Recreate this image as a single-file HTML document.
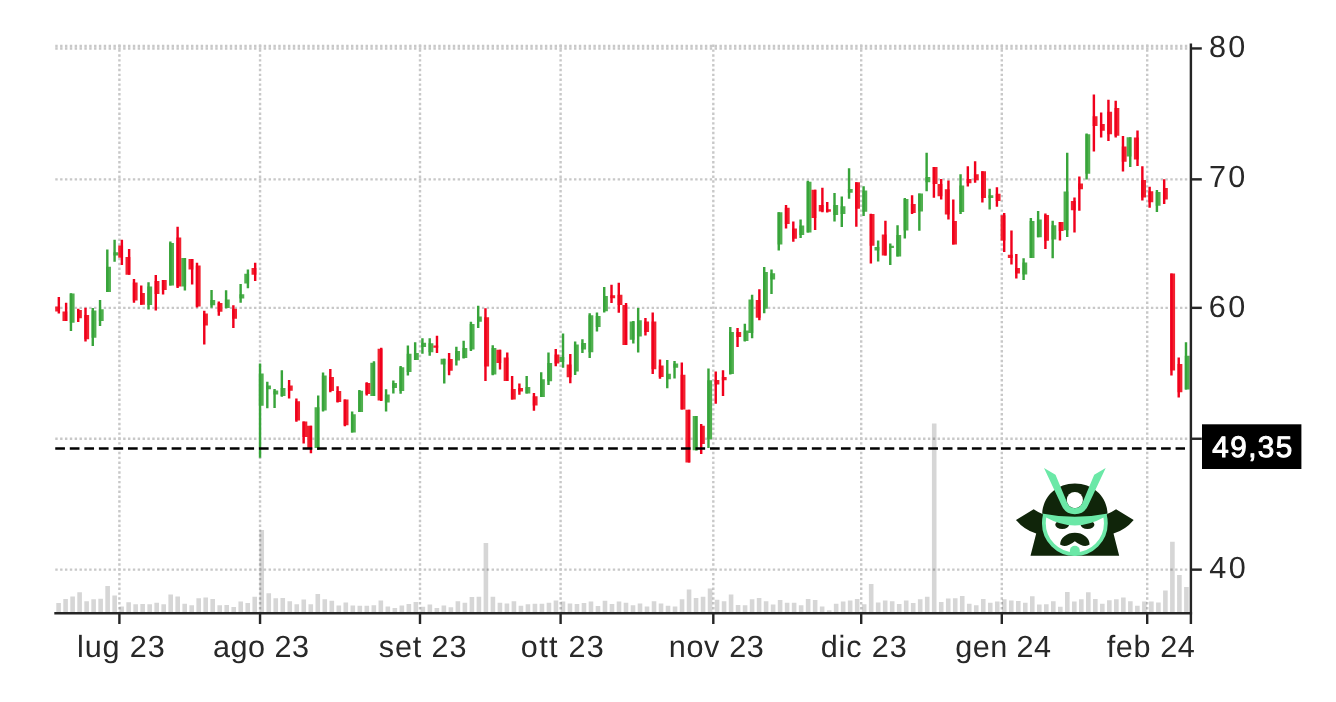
<!DOCTYPE html><html><head><meta charset="utf-8"><title>chart</title><style>
html,body{margin:0;padding:0;background:#fff;}
body{width:1336px;height:702px;overflow:hidden;position:relative;font-family:"Liberation Sans",sans-serif;}
svg{position:absolute;left:0;top:0;will-change:transform;}
text{font-family:"Liberation Sans",sans-serif;text-rendering:geometricPrecision;}
</style></head><body>
<svg width="1336" height="702" viewBox="0 0 1336 702">
<path id="vol" fill="#d6d6d6" d="M56.30,612.4v-9.4h4.6v9.4zM63.30,612.4v-13.5h4.6v13.5zM70.31,612.4v-16.0h4.6v16.0zM77.31,612.4v-20.2h4.6v20.2zM84.32,612.4v-11.2h4.6v11.2zM91.32,612.4v-13.2h4.6v13.2zM98.33,612.4v-13.6h4.6v13.6zM105.33,612.4v-26.3h4.6v26.3zM112.34,612.4v-16.9h4.6v16.9zM119.34,612.4v-6.0h4.6v6.0zM126.35,612.4v-10.2h4.6v10.2zM133.35,612.4v-8.2h4.6v8.2zM140.36,612.4v-8.4h4.6v8.4zM147.37,612.4v-8.2h4.6v8.2zM154.37,612.4v-9.7h4.6v9.7zM161.38,612.4v-8.2h4.6v8.2zM168.38,612.4v-18.0h4.6v18.0zM175.38,612.4v-15.9h4.6v15.9zM182.39,612.4v-8.7h4.6v8.7zM189.39,612.4v-7.2h4.6v7.2zM196.40,612.4v-14.2h4.6v14.2zM203.40,612.4v-15.0h4.6v15.0zM210.41,612.4v-13.5h4.6v13.5zM217.42,612.4v-7.2h4.6v7.2zM224.42,612.4v-7.5h4.6v7.5zM231.43,612.4v-5.4h4.6v5.4zM238.43,612.4v-10.8h4.6v10.8zM245.44,612.4v-9.4h4.6v9.4zM252.44,612.4v-15.7h4.6v15.7zM259.44,612.4v-82.4h4.6v82.4zM266.45,612.4v-19.2h4.6v19.2zM273.45,612.4v-14.2h4.6v14.2zM280.46,612.4v-14.5h4.6v14.5zM287.46,612.4v-11.2h4.6v11.2zM294.47,612.4v-8.2h4.6v8.2zM301.47,612.4v-13.0h4.6v13.0zM308.48,612.4v-8.2h4.6v8.2zM315.49,612.4v-18.4h4.6v18.4zM322.49,612.4v-13.2h4.6v13.2zM329.50,612.4v-11.7h4.6v11.7zM336.50,612.4v-7.0h4.6v7.0zM343.50,612.4v-10.0h4.6v10.0zM350.51,612.4v-7.0h4.6v7.0zM357.51,612.4v-6.7h4.6v6.7zM364.52,612.4v-6.7h4.6v6.7zM371.53,612.4v-7.2h4.6v7.2zM378.53,612.4v-12.0h4.6v12.0zM385.54,612.4v-6.0h4.6v6.0zM392.54,612.4v-4.5h4.6v4.5zM399.55,612.4v-7.0h4.6v7.0zM406.55,612.4v-8.5h4.6v8.5zM413.56,612.4v-10.5h4.6v10.5zM420.56,612.4v-5.7h4.6v5.7zM427.56,612.4v-7.9h4.6v7.9zM434.57,612.4v-4.5h4.6v4.5zM441.57,612.4v-7.0h4.6v7.0zM448.58,612.4v-5.2h4.6v5.2zM455.58,612.4v-11.2h4.6v11.2zM462.59,612.4v-9.7h4.6v9.7zM469.60,612.4v-15.4h4.6v15.4zM476.60,612.4v-15.7h4.6v15.7zM483.61,612.4v-69.3h4.6v69.3zM490.61,612.4v-15.7h4.6v15.7zM497.62,612.4v-9.7h4.6v9.7zM504.62,612.4v-8.8h4.6v8.8zM511.62,612.4v-11.2h4.6v11.2zM518.63,612.4v-6.7h4.6v6.7zM525.63,612.4v-8.2h4.6v8.2zM532.64,612.4v-8.7h4.6v8.7zM539.64,612.4v-8.7h4.6v8.7zM546.65,612.4v-9.7h4.6v9.7zM553.65,612.4v-11.8h4.6v11.8zM560.66,612.4v-10.8h4.6v10.8zM567.66,612.4v-9.0h4.6v9.0zM574.67,612.4v-8.5h4.6v8.5zM581.67,612.4v-9.3h4.6v9.3zM588.68,612.4v-10.8h4.6v10.8zM595.68,612.4v-6.4h4.6v6.4zM602.69,612.4v-11.7h4.6v11.7zM609.69,612.4v-8.5h4.6v8.5zM616.70,612.4v-10.8h4.6v10.8zM623.70,612.4v-9.7h4.6v9.7zM630.71,612.4v-7.2h4.6v7.2zM637.71,612.4v-9.0h4.6v9.0zM644.72,612.4v-6.0h4.6v6.0zM651.72,612.4v-11.1h4.6v11.1zM658.73,612.4v-8.8h4.6v8.8zM665.73,612.4v-6.6h4.6v6.6zM672.74,612.4v-6.0h4.6v6.0zM679.74,612.4v-13.2h4.6v13.2zM686.75,612.4v-22.9h4.6v22.9zM693.75,612.4v-14.5h4.6v14.5zM700.76,612.4v-15.7h4.6v15.7zM707.76,612.4v-24.0h4.6v24.0zM714.77,612.4v-12.7h4.6v12.7zM721.77,612.4v-11.2h4.6v11.2zM728.78,612.4v-17.8h4.6v17.8zM735.78,612.4v-7.5h4.6v7.5zM742.79,612.4v-7.2h4.6v7.2zM749.79,612.4v-13.2h4.6v13.2zM756.80,612.4v-14.4h4.6v14.4zM763.80,612.4v-11.2h4.6v11.2zM770.81,612.4v-7.9h4.6v7.9zM777.81,612.4v-12.3h4.6v12.3zM784.82,612.4v-9.7h4.6v9.7zM791.82,612.4v-9.7h4.6v9.7zM798.83,612.4v-7.2h4.6v7.2zM805.83,612.4v-13.3h4.6v13.3zM812.84,612.4v-12.3h4.6v12.3zM819.84,612.4v-5.8h4.6v5.8zM826.85,612.4v-2.2h4.6v2.2zM833.85,612.4v-8.7h4.6v8.7zM840.86,612.4v-10.8h4.6v10.8zM847.86,612.4v-12.0h4.6v12.0zM854.87,612.4v-13.5h4.6v13.5zM861.87,612.4v-8.2h4.6v8.2zM868.88,612.4v-28.4h4.6v28.4zM875.88,612.4v-9.9h4.6v9.9zM882.89,612.4v-11.8h4.6v11.8zM889.89,612.4v-11.2h4.6v11.2zM896.90,612.4v-8.5h4.6v8.5zM903.90,612.4v-12.0h4.6v12.0zM910.91,612.4v-9.4h4.6v9.4zM917.91,612.4v-13.2h4.6v13.2zM924.92,612.4v-15.7h4.6v15.7zM931.92,612.4v-188.9h4.6v188.9zM938.93,612.4v-10.3h4.6v10.3zM945.93,612.4v-13.9h4.6v13.9zM952.94,612.4v-14.1h4.6v14.1zM959.94,612.4v-16.5h4.6v16.5zM966.95,612.4v-8.7h4.6v8.7zM973.95,612.4v-7.2h4.6v7.2zM980.96,612.4v-13.3h4.6v13.3zM987.96,612.4v-9.7h4.6v9.7zM994.97,612.4v-10.8h4.6v10.8zM1001.97,612.4v-13.2h4.6v13.2zM1008.98,612.4v-12.0h4.6v12.0zM1015.98,612.4v-11.5h4.6v11.5zM1022.99,612.4v-9.7h4.6v9.7zM1029.99,612.4v-16.2h4.6v16.2zM1037.00,612.4v-7.9h4.6v7.9zM1044.01,612.4v-8.2h4.6v8.2zM1051.01,612.4v-11.1h4.6v11.1zM1058.02,612.4v-5.7h4.6v5.7zM1065.02,612.4v-20.5h4.6v20.5zM1072.03,612.4v-10.8h4.6v10.8zM1079.03,612.4v-13.2h4.6v13.2zM1086.03,612.4v-20.2h4.6v20.2zM1093.04,612.4v-13.5h4.6v13.5zM1100.04,612.4v-8.7h4.6v8.7zM1107.05,612.4v-12.1h4.6v12.1zM1114.05,612.4v-13.2h4.6v13.2zM1121.06,612.4v-15.0h4.6v15.0zM1128.06,612.4v-11.2h4.6v11.2zM1135.07,612.4v-6.7h4.6v6.7zM1142.08,612.4v-10.9h4.6v10.9zM1149.08,612.4v-10.8h4.6v10.8zM1156.09,612.4v-10.0h4.6v10.0zM1163.09,612.4v-22.0h4.6v22.0zM1170.10,612.4v-70.7h4.6v70.7zM1177.10,612.4v-37.3h4.6v37.3zM1184.11,612.4v-25.3h4.6v25.3z"/>
<g stroke="#000" opacity="0.215" stroke-width="2.42" stroke-dasharray="2.424 2.424" fill="none">
<path d="M55.26,48.45 H1188"/>
<path d="M55.26,179.35 H1188"/>
<path d="M55.26,307.85 H1188"/>
<path d="M55.26,438.75 H1188"/>
<path d="M55.26,569.65 H1188"/>
<path d="M55.26,46.06 H1188"/>
<path d="M119.4,44.6 V612"/>
<path d="M260.05,44.6 V612"/>
<path d="M420.0,44.6 V612"/>
<path d="M560.6,44.6 V612"/>
<path d="M713.3,44.6 V612"/>
<path d="M861.2,44.6 V612"/>
<path d="M1001.8,44.6 V612"/>
<path d="M1147.2,44.6 V612"/>
</g>
<g id="candles">
<path fill="#4fb04e" d="M69.74,293.6h4.848V322.8h-4.848zM91.56,310.5h4.848V337.8h-4.848zM98.83,309.2h4.848V321.1h-4.848zM106.10,266.7h4.848V291.9h-4.848zM113.38,252.3h4.848V255.5h-4.848zM147.31,286.4h4.848V305.1h-4.848zM169.13,243.0h4.848V285.6h-4.848zM181.25,257.9h4.848V286.4h-4.848zM210.34,299.9h4.848V305.2h-4.848zM224.88,299.5h4.848V308.0h-4.848zM239.42,294.2h4.848V298.5h-4.848zM244.27,273.8h4.848V283.4h-4.848zM258.82,373.6h4.848V405.7h-4.848zM266.09,385.6h4.848V389.2h-4.848zM273.36,390.4h4.848V394.6h-4.848zM280.63,388.1h4.848V396.1h-4.848zM314.57,407.2h4.848V447.9h-4.848zM321.84,375.4h4.848V410.6h-4.848zM350.93,414.2h4.848V432.6h-4.848zM358.20,390.7h4.848V412.1h-4.848zM370.32,362.7h4.848V395.9h-4.848zM384.86,394.6h4.848V402.4h-4.848zM392.14,382.9h4.848V388.1h-4.848zM399.41,367.2h4.848V391.1h-4.848zM406.68,353.7h4.848V372.1h-4.848zM413.95,353.0h4.848V360.1h-4.848zM421.22,342.8h4.848V347.0h-4.848zM428.50,343.2h4.848V352.2h-4.848zM440.62,358.7h4.848V364.4h-4.848zM455.16,350.9h4.848V360.6h-4.848zM462.43,347.9h4.848V358.1h-4.848zM469.70,324.0h4.848V349.4h-4.848zM476.98,316.5h4.848V321.7h-4.848zM491.52,347.9h4.848V374.6h-4.848zM525.46,387.1h4.848V393.4h-4.848zM540.00,379.3h4.848V397.1h-4.848zM547.27,362.9h4.848V381.3h-4.848zM559.39,356.9h4.848V362.1h-4.848zM573.94,344.6h4.848V371.6h-4.848zM581.21,343.1h4.848V349.4h-4.848zM588.48,315.3h4.848V352.3h-4.848zM595.75,316.0h4.848V327.0h-4.848zM603.02,296.0h4.848V311.2h-4.848zM629.69,321.4h4.848V339.7h-4.848zM636.96,320.2h4.848V336.4h-4.848zM666.05,373.7h4.848V379.2h-4.848zM673.32,363.6h4.848V367.8h-4.848zM692.71,416.0h4.848V450.2h-4.848zM707.26,380.3h4.848V439.2h-4.848zM729.07,331.9h4.848V373.9h-4.848zM743.62,330.4h4.848V340.9h-4.848zM748.46,299.5h4.848V333.1h-4.848zM763.01,271.9h4.848V308.7h-4.848zM770.28,273.2h4.848V279.6h-4.848zM777.55,212.2h4.848V244.6h-4.848zM799.37,225.6h4.848V235.1h-4.848zM806.64,181.8h4.848V232.4h-4.848zM833.30,205.1h4.848V215.1h-4.848zM840.58,206.2h4.848V214.1h-4.848zM847.85,189.0h4.848V192.7h-4.848zM862.39,190.4h4.848V211.7h-4.848zM874.51,247.0h4.848V250.6h-4.848zM889.06,245.8h4.848V248.1h-4.848zM896.33,235.1h4.848V256.6h-4.848zM903.60,199.1h4.848V230.6h-4.848zM918.14,193.5h4.848V211.5h-4.848zM925.42,177.1h4.848V182.3h-4.848zM959.35,185.4h4.848V212.1h-4.848zM988.44,195.2h4.848V198.1h-4.848zM1022.38,262.6h4.848V274.5h-4.848zM1029.65,221.1h4.848V258.0h-4.848zM1036.92,219.4h4.848V237.2h-4.848zM1051.46,225.2h4.848V239.4h-4.848zM1063.58,191.5h4.848V230.2h-4.848zM1085.40,134.2h4.848V173.8h-4.848zM1126.61,137.2h4.848V156.6h-4.848zM1155.70,192.1h4.848V205.7h-4.848zM1184.78,355.7h4.848V389.6h-4.848z"/>
<path fill="#f2212f" d="M55.20,306.6h4.848V311.4h-4.848zM62.47,311.6h4.848V320.9h-4.848zM77.02,310.1h4.848V318.3h-4.848zM84.29,315.0h4.848V339.3h-4.848zM118.22,245.5h4.848V257.7h-4.848zM125.50,256.9h4.848V274.8h-4.848zM132.77,282.6h4.848V300.6h-4.848zM140.04,293.1h4.848V304.8h-4.848zM154.58,281.1h4.848V293.9h-4.848zM161.86,280.1h4.848V290.1h-4.848zM176.40,237.4h4.848V286.4h-4.848zM188.52,259.1h4.848V269.6h-4.848zM195.79,265.4h4.848V306.6h-4.848zM203.06,313.4h4.848V325.4h-4.848zM217.61,303.0h4.848V311.7h-4.848zM232.15,308.7h4.848V318.7h-4.848zM251.54,268.0h4.848V274.7h-4.848zM287.90,385.6h4.848V390.7h-4.848zM295.18,401.2h4.848V420.4h-4.848zM302.45,421.6h4.848V437.1h-4.848zM307.30,425.8h4.848V449.0h-4.848zM329.11,376.9h4.848V391.1h-4.848zM336.38,391.1h4.848V401.9h-4.848zM343.66,399.4h4.848V425.2h-4.848zM365.47,382.9h4.848V394.1h-4.848zM377.59,348.8h4.848V400.4h-4.848zM433.34,345.4h4.848V347.8h-4.848zM447.89,359.1h4.848V370.7h-4.848zM484.25,317.2h4.848V366.6h-4.848zM496.37,349.7h4.848V362.9h-4.848zM503.64,357.6h4.848V381.0h-4.848zM510.91,389.1h4.848V399.6h-4.848zM518.18,388.0h4.848V391.5h-4.848zM532.73,396.2h4.848V405.6h-4.848zM554.54,354.6h4.848V363.6h-4.848zM566.66,364.4h4.848V377.3h-4.848zM610.30,295.2h4.848V298.2h-4.848zM617.57,294.8h4.848V304.9h-4.848zM622.42,304.9h4.848V345.1h-4.848zM644.23,321.4h4.848V331.9h-4.848zM651.50,321.4h4.848V369.2h-4.848zM658.78,365.6h4.848V376.9h-4.848zM680.59,374.8h4.848V409.6h-4.848zM685.44,409.7h4.848V462.4h-4.848zM699.98,425.8h4.848V444.1h-4.848zM714.53,380.0h4.848V384.5h-4.848zM721.80,377.0h4.848V380.3h-4.848zM736.34,331.9h4.848V337.1h-4.848zM755.74,300.0h4.848V317.7h-4.848zM784.82,207.7h4.848V224.1h-4.848zM792.10,228.6h4.848V238.7h-4.848zM811.49,189.7h4.848V218.1h-4.848zM818.76,205.1h4.848V211.4h-4.848zM826.03,209.2h4.848V211.7h-4.848zM855.12,182.2h4.848V208.7h-4.848zM869.66,214.1h4.848V245.8h-4.848zM881.78,234.6h4.848V255.6h-4.848zM910.87,204.1h4.848V213.0h-4.848zM932.69,167.0h4.848V184.0h-4.848zM937.54,183.9h4.848V196.2h-4.848zM944.81,189.2h4.848V214.6h-4.848zM952.08,221.1h4.848V244.6h-4.848zM966.62,179.1h4.848V183.2h-4.848zM973.90,174.2h4.848V180.2h-4.848zM981.17,171.2h4.848V198.1h-4.848zM995.71,193.7h4.848V201.1h-4.848zM1000.56,215.3h4.848V240.5h-4.848zM1007.83,254.7h4.848V257.9h-4.848zM1015.10,268.1h4.848V273.5h-4.848zM1044.19,214.9h4.848V240.8h-4.848zM1058.74,222.0h4.848V231.0h-4.848zM1070.86,201.0h4.848V210.2h-4.848zM1078.13,183.4h4.848V189.2h-4.848zM1092.67,116.2h4.848V125.9h-4.848zM1099.94,124.1h4.848V130.7h-4.848zM1107.22,111.7h4.848V134.2h-4.848zM1114.49,108.0h4.848V135.7h-4.848zM1121.76,146.6h4.848V161.7h-4.848zM1133.88,137.6h4.848V159.6h-4.848zM1141.15,180.0h4.848V197.4h-4.848zM1148.42,191.3h4.848V202.3h-4.848zM1162.97,188.1h4.848V199.6h-4.848zM1170.24,273.5h4.848V370.4h-4.848zM1177.51,364.1h4.848V392.3h-4.848z"/>
<path fill="#37a43a" d="M69.74,293.3h2.424V331.1h-2.424zM91.56,308.0h2.424V346.0h-2.424zM98.83,300.1h2.424V326.1h-2.424zM106.10,249.6h2.424V291.9h-2.424zM113.38,239.8h2.424V261.8h-2.424zM147.31,282.3h2.424V309.6h-2.424zM169.13,241.5h2.424V285.6h-2.424zM183.67,257.9h2.424V290.4h-2.424zM210.34,289.9h2.424V307.7h-2.424zM224.88,290.2h2.424V308.2h-2.424zM239.42,284.1h2.424V302.8h-2.424zM246.70,269.6h2.424V288.2h-2.424zM258.82,363.4h2.424V457.7h-2.424zM266.09,381.7h2.424V408.3h-2.424zM273.36,388.9h2.424V408.1h-2.424zM280.63,370.2h2.424V396.7h-2.424zM316.99,395.6h2.424V450.1h-2.424zM321.84,372.4h2.424V411.6h-2.424zM350.93,411.4h2.424V432.6h-2.424zM358.20,390.1h2.424V412.1h-2.424zM372.74,361.2h2.424V395.9h-2.424zM384.86,389.2h2.424V411.6h-2.424zM392.14,380.4h2.424V393.4h-2.424zM399.41,366.1h2.424V393.7h-2.424zM406.68,345.5h2.424V375.4h-2.424zM413.95,342.2h2.424V360.1h-2.424zM421.22,338.3h2.424V353.7h-2.424zM428.50,338.3h2.424V355.7h-2.424zM443.04,358.7h2.424V383.5h-2.424zM455.16,346.7h2.424V365.6h-2.424zM462.43,340.7h2.424V358.4h-2.424zM469.70,321.7h2.424V350.9h-2.424zM476.98,305.7h2.424V328.1h-2.424zM491.52,345.2h2.424V375.2h-2.424zM525.46,376.1h2.424V393.6h-2.424zM540.00,372.3h2.424V397.1h-2.424zM547.27,352.4h2.424V385.0h-2.424zM561.82,333.4h2.424V367.7h-2.424zM573.94,341.6h2.424V375.0h-2.424zM581.21,339.2h2.424V353.1h-2.424zM588.48,313.2h2.424V358.1h-2.424zM595.75,312.5h2.424V331.5h-2.424zM603.02,287.0h2.424V312.4h-2.424zM632.11,321.1h2.424V343.6h-2.424zM636.96,307.9h2.424V352.6h-2.424zM666.05,360.0h2.424V388.2h-2.424zM673.32,361.1h2.424V378.6h-2.424zM695.14,416.0h2.424V450.4h-2.424zM707.26,368.4h2.424V448.0h-2.424zM729.07,327.1h2.424V374.6h-2.424zM743.62,323.7h2.424V341.6h-2.424zM750.89,294.7h2.424V338.2h-2.424zM763.01,267.0h2.424V313.2h-2.424zM770.28,269.6h2.424V294.1h-2.424zM777.55,212.2h2.424V250.5h-2.424zM799.37,219.6h2.424V238.1h-2.424zM806.64,180.7h2.424V232.4h-2.424zM833.30,193.0h2.424V221.6h-2.424zM840.58,196.4h2.424V227.1h-2.424zM847.85,168.3h2.424V198.7h-2.424zM862.39,186.3h2.424V215.9h-2.424zM876.94,240.6h2.424V261.6h-2.424zM889.06,243.6h2.424V265.0h-2.424zM896.33,225.2h2.424V256.6h-2.424zM903.60,197.9h2.424V238.4h-2.424zM918.14,193.5h2.424V230.7h-2.424zM925.42,152.8h2.424V191.3h-2.424zM959.35,174.2h2.424V213.9h-2.424zM988.44,188.7h2.424V209.4h-2.424zM1022.38,258.2h2.424V279.9h-2.424zM1029.65,218.0h2.424V258.0h-2.424zM1036.92,211.0h2.424V237.2h-2.424zM1051.46,220.7h2.424V258.3h-2.424zM1066.01,152.7h2.424V237.0h-2.424zM1085.40,133.4h2.424V179.4h-2.424zM1129.03,137.2h2.424V167.0h-2.424zM1155.70,190.0h2.424V212.1h-2.424zM1184.78,342.2h2.424V389.6h-2.424z"/>
<path fill="#f0001c" d="M57.62,296.9h2.424V313.5h-2.424zM64.90,302.7h2.424V320.9h-2.424zM77.02,308.8h2.424V322.0h-2.424zM84.29,307.8h2.424V341.6h-2.424zM120.65,239.8h2.424V265.1h-2.424zM127.92,249.1h2.424V274.8h-2.424zM132.77,278.9h2.424V302.8h-2.424zM140.04,285.6h2.424V304.8h-2.424zM154.58,275.1h2.424V310.6h-2.424zM161.86,280.1h2.424V294.6h-2.424zM176.40,226.8h2.424V287.9h-2.424zM190.94,259.1h2.424V284.6h-2.424zM195.79,262.7h2.424V307.6h-2.424zM203.06,310.7h2.424V344.6h-2.424zM217.61,301.4h2.424V315.8h-2.424zM232.15,305.2h2.424V328.1h-2.424zM253.97,262.8h2.424V281.0h-2.424zM287.90,379.9h2.424V398.6h-2.424zM295.18,398.6h2.424V421.8h-2.424zM302.45,421.6h2.424V443.6h-2.424zM309.72,425.8h2.424V453.3h-2.424zM329.11,369.1h2.424V392.2h-2.424zM336.38,386.2h2.424V402.4h-2.424zM343.66,399.4h2.424V426.3h-2.424zM365.47,382.2h2.424V395.6h-2.424zM380.02,347.7h2.424V400.9h-2.424zM435.77,335.8h2.424V353.0h-2.424zM447.89,353.1h2.424V375.2h-2.424zM484.25,308.2h2.424V381.1h-2.424zM498.79,349.7h2.424V369.6h-2.424zM506.06,352.4h2.424V381.0h-2.424zM510.91,376.1h2.424V399.6h-2.424zM518.18,383.5h2.424V394.8h-2.424zM532.73,393.0h2.424V410.7h-2.424zM554.54,349.1h2.424V366.2h-2.424zM569.09,353.9h2.424V383.3h-2.424zM610.30,284.7h2.424V303.1h-2.424zM617.57,282.8h2.424V312.7h-2.424zM624.84,303.1h2.424V345.1h-2.424zM644.23,318.1h2.424V335.6h-2.424zM651.50,312.4h2.424V374.1h-2.424zM658.78,359.6h2.424V378.7h-2.424zM680.59,362.6h2.424V409.6h-2.424zM687.86,409.7h2.424V462.4h-2.424zM699.98,424.0h2.424V454.0h-2.424zM714.53,371.6h2.424V403.7h-2.424zM721.80,370.2h2.424V396.1h-2.424zM736.34,328.1h2.424V346.9h-2.424zM758.16,289.2h2.424V320.2h-2.424zM784.82,205.1h2.424V228.6h-2.424zM792.10,221.6h2.424V241.7h-2.424zM813.91,189.7h2.424V230.1h-2.424zM821.18,187.8h2.424V212.2h-2.424zM826.03,202.1h2.424V212.6h-2.424zM855.12,182.2h2.424V226.7h-2.424zM869.66,213.7h2.424V263.5h-2.424zM884.21,220.7h2.424V255.6h-2.424zM910.87,195.2h2.424V214.0h-2.424zM932.69,167.0h2.424V197.7h-2.424zM939.96,179.1h2.424V199.6h-2.424zM947.23,180.6h2.424V219.6h-2.424zM952.08,199.6h2.424V244.6h-2.424zM966.62,166.3h2.424V186.6h-2.424zM973.90,161.2h2.424V182.7h-2.424zM981.17,171.2h2.424V202.6h-2.424zM995.71,187.2h2.424V206.7h-2.424zM1002.98,213.0h2.424V252.1h-2.424zM1010.26,230.4h2.424V264.6h-2.424zM1015.10,254.1h2.424V278.5h-2.424zM1044.19,213.6h2.424V249.0h-2.424zM1058.74,222.0h2.424V240.4h-2.424zM1073.28,197.4h2.424V232.4h-2.424zM1078.13,176.4h2.424V210.8h-2.424zM1092.67,94.5h2.424V151.4h-2.424zM1099.94,112.5h2.424V137.6h-2.424zM1107.22,99.7h2.424V140.9h-2.424zM1114.49,100.8h2.424V137.6h-2.424zM1121.76,136.1h2.424V171.5h-2.424zM1136.30,130.4h2.424V166.0h-2.424zM1141.15,166.3h2.424V200.4h-2.424zM1148.42,186.8h2.424V207.7h-2.424zM1162.97,179.2h2.424V203.9h-2.424zM1170.24,273.5h2.424V375.4h-2.424zM1177.51,357.4h2.424V397.6h-2.424z"/>
</g>
<path d="M55.24,448.45 H1185" stroke="#000" stroke-width="2.42" stroke-dasharray="9.7 4.85" stroke-dashoffset="0" fill="none"/>
<g stroke="#252525" stroke-width="2.42" fill="none">
<path d="M1190.9,43.6 V624"/>
<path d="M54.3,613.2 H1192.1000000000001"/>
<path d="M1190.9,48.45 H1201.8"/>
<path d="M1190.9,179.35 H1201.8"/>
<path d="M1190.9,307.85 H1201.8"/>
<path d="M1190.9,438.75 H1201.8"/>
<path d="M1190.9,569.65 H1201.8"/>
<path d="M119.4,613.2 V624"/>
<path d="M260.05,613.2 V624"/>
<path d="M420.0,613.2 V624"/>
<path d="M560.6,613.2 V624"/>
<path d="M713.3,613.2 V624"/>
<path d="M861.2,613.2 V624"/>
<path d="M1001.8,613.2 V624"/>
<path d="M1147.2,613.2 V624"/>
</g>
<g fill="#282828" font-size="30.6px">
<text x="1209.10" y="57.25" letter-spacing="2.14">80</text>
<text x="1208.89" y="186.95" letter-spacing="2.41">70</text>
<text x="1208.86" y="317.45" letter-spacing="2.44">60</text>
<text x="1209.32" y="578.1" letter-spacing="2.45">40</text>
<text x="77.11" y="656.7" letter-spacing="0.85">lug 23</text>
<text x="212.91" y="656.7" letter-spacing="0.52">ago 23</text>
<text x="378.79" y="656.7" letter-spacing="0.87">set 23</text>
<text x="520.87" y="656.7" letter-spacing="1.27">ott 23</text>
<text x="668.82" y="656.7" letter-spacing="0.63">nov 23</text>
<text x="820.64" y="656.7" letter-spacing="0.89">dic 23</text>
<text x="955.35" y="656.7" letter-spacing="0.43">gen 24</text>
<text x="1106.64" y="656.7" letter-spacing="0.63">feb 24</text>
</g>
<rect x="1202" y="424.3" width="99.4" height="44.7" fill="#000"/>
<text x="1212.25" y="457.15" fill="#fff" stroke="#fff" stroke-width="1.0" stroke-linejoin="round" font-size="29.6px" letter-spacing="1.48">49,35</text>
<g id="logo">
<path fill="#10250a" d="M1042,513.7 Q1037.5,511.8 1033.65,509.2 L1016,519.95 Q1024.2,529.8 1036.2,533.6 L1030.5,555.8 L1119.2,555.8 L1113.5,533.6 Q1125.5,529.8 1133.7,519.95 L1116.05,509.2 Q1112.2,511.8 1107.7,513.7 Z"/>
<circle cx="1074.85" cy="523.2" r="31" fill="#fff" stroke="#6be8a7" stroke-width="3.8"/>
<path fill="#10250a" d="M1042.2,513.8 C1042.6,497 1056,483.4 1074.85,483.4 C1093.7,483.4 1107.1,497 1107.5,513.8 Q1074.85,526 1042.2,513.8 Z"/>
<ellipse cx="1062.2" cy="524.7" rx="6.9" ry="4.2" fill="#10250a"/>
<ellipse cx="1087.5" cy="524.7" rx="6.9" ry="4.2" fill="#10250a"/>
<path fill="#10250a" d="M1060.1,544.6 A14.75,11.8 0 0 1 1089.6,544.6 Q1084.1,548.6 1074.85,541.2 Q1065.6,548.6 1060.1,544.6 Z"/>
<circle cx="1074.85" cy="550.7" r="5" fill="#6be8a7"/>
<path fill="#6be8a7" d="M1041.8,513.5 Q1074.85,520.1 1107.9,513.5 L1104,517.2 Q1074.85,533.6 1045.7,517.2 Z"/>
<circle cx="1074.85" cy="500.1" r="8.1" fill="#fff"/>
<path fill="#6be8a7" d="M1044,468 L1055.5,474.7 L1067.43,503.35 A8.1,8.1 0 0 0 1082.27,503.35 L1094.2,474.7 L1105.7,468 L1087.95,505.63 A14.3,14.3 0 0 1 1061.75,505.63 Z"/>
</g>

</svg></body></html>
